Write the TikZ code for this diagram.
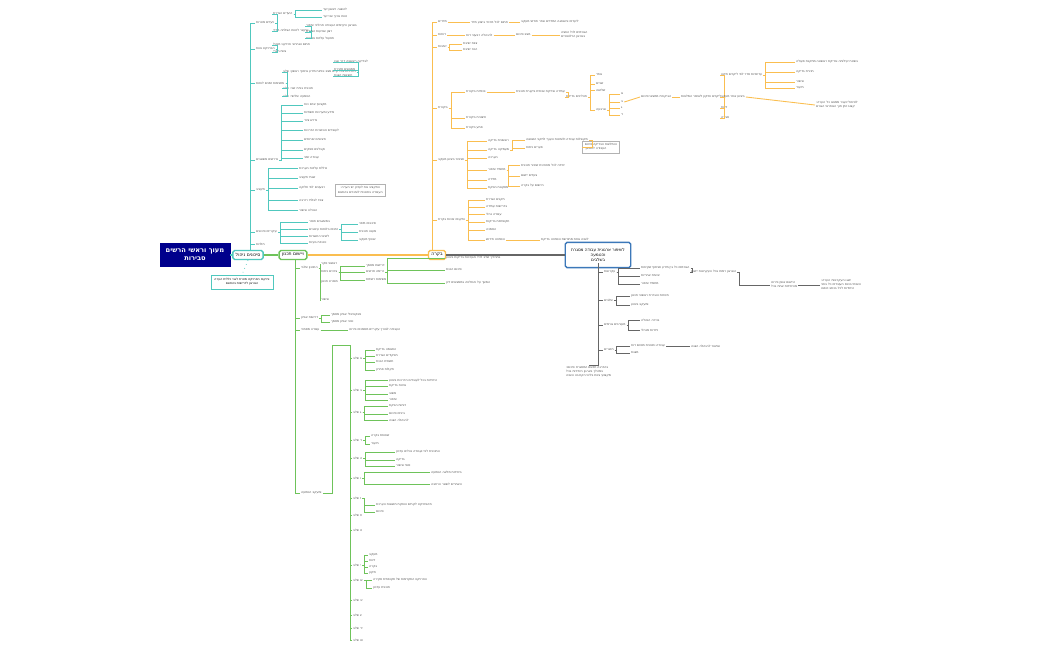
\documentclass[tikz,border=0pt]{standalone}
\usepackage{fontspec}
\setmainfont{DejaVu Sans}
\definecolor{tq}{RGB}{80,200,190}
\definecolor{gr}{RGB}{110,195,90}
\definecolor{og}{RGB}{250,190,80}
\definecolor{bl}{RGB}{60,120,185}
\tikzset{
  leaf/.style={font=\fontsize{1.8}{2.3}\selectfont, anchor=west, inner sep=0.5pt, text=black!70},
  topic/.style={draw=#1, thick, fill=white, rounded corners=1pt, font=\fontsize{2.6}{3.2}\selectfont, inner sep=1.6pt},
  tl/.style={draw=#1, line width=0.5pt},
}
\begin{document}
\begin{tikzpicture}[x=0.02cm, y=-0.02cm]
  \useasboundingbox (0,0) rectangle (1050,650);
  % main topics
  \node[draw=blue!55!black, fill=blue!55!black, text=white, font=\fontsize{3.8}{4.6}\selectfont\bfseries, minimum width=60*0.02cm, minimum height=20*0.02cm, align=center] (root) at (195,255) {הרשים וראשי מעוך\\סבירות};
  \node[topic=tq] (teal) at (248,255) {ניהול סיכונים};
  \node[topic=gr] (green) at (293,255) {תכנון ויישום};
  \node[topic=og] (orange) at (437,255) {בקרה};
  \node[draw=bl, thick, fill=white, rounded corners=1pt, font=\fontsize{2.4}{3}\selectfont, align=center, minimum width=43*0.02cm, minimum height=16*0.02cm] (blue) at (598,255) {מסגרת עבודה ארגונית לשיפור\\והטמעה\\בשלבים};
  \node[draw=tq, fill=white, font=\fontsize{1.8}{2.3}\selectfont, align=center, inner sep=2pt] (note) at (242,282) {הערה כללית לגבי מטרת הפרויקט והיקפו\\בהתאם לדרישות הארגון};
  \draw[tl=tq, thick] (root) -- (teal);
  \draw[tl=gr, thick] (teal) -- (green);
  \draw[tl=og, thick] (green) -- (orange);
  \draw[tl=black!60, thick] (orange) -- (blue);
  \draw[tq, dotted] (teal.south) -- (note.north);

  % ---------- teal branch
  \coordinate (ts) at (250,250);
  \foreach \y/\t [count=\i] in {23/מטרות ויעדים, 49/צוות הפרויקט, 83/לוחות זמנים ומשימות, 160/משאבים נדרשים, 190/תקציב, 232/סיכונים עיקריים, 244/תלויות}
  { \node[leaf] (tb\i) at (255,\y) {\t};
    \draw[tl=tq] (ts) |- (tb\i.west); }
  \foreach \y/\t [count=\i] in {14/הגדרת היעדים, 31/מדדי הצלחה לטווח הקצר}
  { \node[leaf] (ta\i) at (272,\y) {\t}; \draw[tl=tq] (tb1.east) -- ++(2,0) |- (ta\i.west); }
  \foreach \y/\t [count=\i] in {10/יעד ראשון להשגה, 17/יעד שני ארוך טווח}
  { \node[leaf] (taa\i) at (322,\y) {\t}; \draw[tl=tq] (ta1.east) -- ++(2,0) |- (taa\i.west); }
  \foreach \y/\t [count=\i] in {26/שיפור תהליכי העבודה הקיימים בארגון, 32/הגדלת שביעות רצון, 38/צמצום עלויות תפעול}
  { \node[leaf] (tab\i) at (305,\y) {\t}; \draw[tl=tq] (ta2.east) -- ++(2,0) |- (tab\i.west); }
  \foreach \y/\t [count=\i] in {45/מנהל פרויקט ואחראי תחום, 52/חברי צוות}
  { \node[leaf] (tc\i) at (272,\y) {\t}; \draw[tl=tq] (tb2.east) -- ++(2,0) |- (tc\i.west); }
  \foreach \y/\t [count=\i] in {72/שלב ראשון: איסוף מידע וניתוח מצב קיים בכל היחידות, 88/שלב שני: בניית תוכנית, 96/שלב שלישי: הטמעה}
  { \node[leaf] (td\i) at (282,\y) {\t}; \draw[tl=tq] (tb3.east) -- ++(2,0) |- (td\i.west); }
  \foreach \y/\t [count=\i] in {62/אבן דרך ראשונה לבדיקה, 70/סקירת ממצאים, 76/הצגת תוצאות}
  { \node[leaf] (tda\i) at (333,\y) {\t}; \draw[tl=tq] (td1.east) -- ++(2,0) |- (tda\i.west); }
  \foreach \y/\t [count=\i] in {105/כוח אדם מקצועי, 113/תשתיות ומערכות מידע, 121/ציוד נדרש, 130/הדרכות והכשרות לעובדים, 140/שירותים חיצוניים, 150/ספקים וקבלנים, 158/זמני עבודה}
  { \node[leaf] (te\i) at (303,\y) {\t}; \draw[tl=tq] (tb4.east) -- ++(2,0) |- (te\i.west); }
  \foreach \y/\t [count=\i] in {168/הערכת עלויות כוללת, 178/תקציב שנתי, 188/חלוקה לפי רבעונים, 200/רזרבה לבלתי צפוי, 210/אישור הנהלה}
  { \node[leaf] (tf\i) at (298,\y) {\t}; \draw[tl=tq] (tb5.east) -- ++(2,0) |- (tf\i.west); }
  \node[draw=black!30, leaf, align=center, inner sep=1.5pt] (tnote) at (335,190) {הערה: יש לעדכן את התקציב\\בהתאם לשינויים בתוכנית העבודה};
  \foreach \y/\t [count=\i] in {222/חוסר במשאבים, 229/עיכובים בלוחות זמנים, 236/התנגדות לשינוי, 243/בעיות טכניות}
  { \node[leaf] (tg\i) at (308,\y) {\t}; \draw[tl=tq] (tb6.east) -- ++(2,0) |- (tg\i.west); }
  \foreach \y/\t [count=\i] in {224/מיפוי סיכונים, 232/תוכנית מענה, 240/מעקב שוטף}
  { \node[leaf] (tga\i) at (358,\y) {\t}; \draw[tl=tq] (tg2.east) -- ++(2,0) |- (tga\i.west); }

  % ---------- green branch
  \coordinate (gs) at (295,260);
  \foreach \y/\t [count=\i] in {268/שלבי התכנון, 318/אפיון דרישות, 330/מסמכי עבודה, 493/הטמעה ומעקב}
  { \node[leaf] (gb\i) at (300,\y) {\t}; \draw[tl=gr] (gs) |- (gb\i.west); }
  \foreach \y/\t [count=\i] in {264/סקר ראשוני, 272/ניתוח צרכים, 282/תכנון מפורט, 300/אישור}
  { \node[leaf] (ga\i) at (320,\y) {\t}; \draw[tl=gr] (gb1.east) -- ++(2,0) |- (ga\i.west); }
  \foreach \y/\t [count=\i] in {266/מסמך דרישות, 272/תרשים זרימה, 280/רשימת משימות}
  { \node[leaf] (gaa\i) at (365,\y) {\t}; \draw[tl=gr] (ga2.east) -- ++(2,0) |- (gaa\i.west); }
  \foreach \y/\t [count=\i] in {258/ביצוע בדיקות והערכות לכל שלב בתהליך, 270/הכנת סיכום, 283/דיון בממצאים והחלטה על המשך}
  { \node[leaf] (gab\i) at (445,\y) {\t}; \draw[tl=gr] (gaa2.east) -- ++(2,0) |- (gab\i.west); }
  \node[leaf] (gc1) at (348,330) {פירוט מסמכים עיקריים לצורך העבודה};
  \draw[tl=gr] (gb3.east) -- (gc1.west);
  \foreach \y/\t [count=\i] in {315/מסמך אפיון פונקציונלי, 322/מסמך אפיון טכני}
  { \node[leaf] (gd\i) at (330,\y) {\t}; \draw[tl=gr] (gb2.east) -- ++(2,0) |- (gd\i.west); }
  \coordinate (gs2) at (350,345);
  \foreach \y/\t [count=\i] in {358/שלב א, 390/שלב ב, 412/שלב ג, 440/שלב ד, 458/שלב ה, 478/שלב ו, 498/שלב ז, 515/שלב ח, 530/שלב ט, 565/שלב י, 580/שלב יא, 600/שלב יב, 615/שלב יג, 628/שלב יד, 640/שלב טו}
  { \node[leaf] (gl\i) at (352,\y) {\t}; \draw[tl=gr] (gs2) |- (gl\i.west); }
  \draw[tl=gr] (gb4.east) -- ++(10,0) |- (gs2);
  \foreach \y/\t [count=\i] in {350/בדיקת התאמה, 356/הגדרת תפקידים, 362/הכנת תשתית, 370/פתרון תקלות}
  { \node[leaf] (gm\i) at (375,\y) {\t}; \draw[tl=gr] (gl1.east) -- ++(2,0) |- (gm\i.west); }
  \foreach \y/\t [count=\i] in {380/ביצוע הדרכות לעובדים בכל היחידות, 386/בדיקת איכות, 394/משוב, 400/שיפור}
  { \node[leaf] (gn\i) at (388,\y) {\t}; \draw[tl=gr] (gl2.east) -- ++(2,0) |- (gn\i.west); }
  \foreach \y/\t [count=\i] in {406/הפקת דוחות, 414/סיכום ביניים, 420/הצגה להנהלה}
  { \node[leaf] (go\i) at (388,\y) {\t}; \draw[tl=gr] (gl3.east) -- ++(2,0) |- (go\i.west); }
  \foreach \y/\t [count=\i] in {436/בקרה שוטפת, 444/תיעוד}
  { \node[leaf] (gp\i) at (370,\y) {\t}; \draw[tl=gr] (gl4.east) -- ++(2,0) |- (gp\i.west); }
  \foreach \y/\t [count=\i] in {452/עדכון נהלים ועבודה לפי התוכנית, 460/בדיקה, 466/אישור סופי}
  { \node[leaf] (gq\i) at (395,\y) {\t}; \draw[tl=gr] (gl5.east) -- ++(2,0) |- (gq\i.west); }
  \foreach \y/\t [count=\i] in {472/הטמעה מלאה ביחידות, 484/הרחבה לשאר האתרים}
  { \node[leaf] (gw\i) at (430,\y) {\t}; \draw[tl=gr] (gl6.east) -- ++(2,0) |- (gw\i.west); }
  \foreach \y/\t [count=\i] in {505/הערכת תוצאות והפקת לקחים מהפרויקט, 512/סיכום}
  { \node[leaf] (gx\i) at (375,\y) {\t}; \draw[tl=gr] (gl7.east) -- ++(2,0) |- (gx\i.west); }
  \foreach \y/\t [count=\i] in {555/מעקב, 561/דיווח, 567/בקרה, 573/תיקון}
  { \node[leaf] (gt\i) at (368,\y) {\t}; \draw[tl=gr] (gl10.east) -- ++(2,0) |- (gt\i.west); }
  \foreach \y/\t [count=\i] in {580/סקירה תקופתית של התקדמות הפרויקט, 588/עדכון תוכנית}
  { \node[leaf] (gu\i) at (372,\y) {\t}; \draw[tl=gr] (gl11.east) -- ++(2,0) |- (gu\i.west); }

  % ---------- orange branch
  \coordinate (os) at (432,250);
  \foreach \y/\t [count=\i] in {22/מדדים, 35/דוחות, 47/ישיבות, 108/ביקורת, 160/מעקב ביצוע ושיפור, 220/בקרת איכות ותקנים}
  { \node[leaf] (ob\i) at (437,\y) {\t}; \draw[tl=og] (os) |- (ob\i.west); }
  \node[leaf] (oa1) at (470,22) {מדד ביצוע מרכזי לכל תחום};
  \draw[tl=og] (ob1.east) -- (oa1.west);
  \node[leaf] (oa2) at (520,22) {מעקב חודשי אחר המדדים והשוואה ליעדים};
  \draw[tl=og] (oa1.east) -- (oa2.west);
  \node[leaf] (oa3) at (465,35) {דוח רבעוני להנהלה};
  \draw[tl=og] (ob2.east) -- (oa3.west);
  \node[leaf] (oa4) at (515,35) {סיכום מצב};
  \draw[tl=og] (oa3.east) -- (oa4.west);
  \node[leaf, align=left] (oa5) at (560,35) {הפצה לכל הגורמים\\הרלוונטיים בארגון};
  \draw[tl=og] (oa4.east) -- (oa5.west);
  \foreach \y/\t [count=\i] in {44/ישיבת צוות, 50/ישיבת היגוי}
  { \node[leaf] (oc\i) at (462,\y) {\t}; \draw[tl=og] (ob3.east) -- ++(2,0) |- (oc\i.west); }
  \foreach \y/\t [count=\i] in {92/ביקורת פנימית, 118/ביקורת חיצונית, 128/ביקורת פתע}
  { \node[leaf] (od\i) at (465,\y) {\t}; \draw[tl=og] (ob4.east) -- ++(2,0) |- (od\i.west); }
  \node[leaf] (oe1) at (515,92) {תוכנית ביקורת שנתית ובדיקת עמידה};
  \draw[tl=og] (od1.east) -- (oe1.west);
  \node[leaf] (oe2) at (565,97) {בדיקת תהליכים};
  \draw[tl=og] (oe1.east) -- ++(2,0) |- (oe2.west);
  \foreach \y/\t [count=\i] in {75/אחד, 84/שניים, 90/שלושה, 110/ארבעה}
  { \node[leaf] (of\i) at (595,\y) {\t}; \draw[tl=og] (oe2.east) -- ++(2,0) |- (of\i.west); }
  \foreach \y/\t [count=\i] in {94/א, 102/ב, 108/ג, 115/ד}
  { \node[leaf] (og\i) at (620,\y) {\t}; \draw[tl=og] (of4.east) -- ++(2,0) |- (og\i.west); }
  \node[leaf] (oh1) at (640,97) {סיכום ממצאי הביקורת};
  \draw[tl=og] (og2.east) -- (oh1.west);
  \node[leaf] (oh2) at (680,97) {המלצות לשיפור ותיקון ליקויים};
  \draw[tl=og] (oh1.east) -- (oh2.west);
  \foreach \y/\t [count=\i] in {75/תיקון ליקויים לפי סדר עדיפויות, 97/מעקב אחר ביצוע, 108/דיווח, 118/סגירה}
  { \node[leaf] (oi\i) at (720,\y) {\t}; \draw[tl=og] (oh2.east) -- ++(2,0) |- (oi\i.west); }
  \foreach \y/\t [count=\i] in {62/פעולה מתקנת ראשונה ובדיקת יעילותה בשטח, 72/בדיקה חוזרת, 82/אישור, 88/תיעוד}
  { \node[leaf] (oj\i) at (795,\y) {\t}; \draw[tl=og] (oi1.east) -- ++(2,0) |- (oj\i.west); }
  \node[leaf, align=left] (ok1) at (815,105) {הערה: כל ממצא יועבר לטיפול\\הגורם האחראי תוך זמן קצוב};
  \draw[tl=og] (oi2.east) -- (ok1.west);
  \foreach \y/\t [count=\i] in {141/בדיקה ראשונית, 150/בדיקה מעמיקה, 158/הערכה, 170/שיפור מתמיד, 180/מדידה, 188/הסקת מסקנות}
  { \node[leaf] (ol\i) at (487,\y) {\t}; \draw[tl=og] (ob5.east) -- ++(2,0) |- (ol\i.west); }
  \foreach \y/\t [count=\i] in {140/השוואה לתקני הענף ולשיטות עבודה מקובלות, 148/ניתוח פערים}
  { \node[leaf] (om\i) at (525,\y) {\t}; \draw[tl=og] (ol2.east) -- ++(2,0) |- (om\i.west); }
  \node[leaf, draw=black!30, align=left, inner sep=1.5pt] (on1) at (582,147) {סיכום הבדיקה והמלצות\\להמשך העבודה};
  \draw[tl=og] (om1.east) -- ++(3,0) |- (on1.west);
  \foreach \y/\t [count=\i] in {165/תוכנית שיפור מפורטת לכל יחידה, 176/יישום צעדים, 186/בקרה על היישום}
  { \node[leaf] (oo\i) at (520,\y) {\t}; \draw[tl=og] (ol4.east) -- ++(2,0) |- (oo\i.west); }
  \foreach \y/\t [count=\i] in {200/הגדרת תקנים, 207/עמידה בדרישות, 214/נהלי עבודה, 222/בדיקות תקופתיות, 230/הסמכה, 240/חידוש הסמכה}
  { \node[leaf] (op\i) at (485,\y) {\t}; \draw[tl=og] (ob6.east) -- ++(2,0) |- (op\i.west); }
  \node[leaf] (oq1) at (540,240) {בדיקת הסמכה מחודשת אחת לשנה};
  \draw[tl=og] (op6.east) -- (oq1.west);

  % ---------- blue branch
  \coordinate (bs) at (598,263);
  \foreach \y/\t [count=\i] in {272/עקרונות, 300/שלבים, 325/גורמים מעורבים, 350/תוצרים}
  { \node[leaf] (bb\i) at (603,\y) {\t}; \draw[tl=black!60] (bs) |- (bb\i.west); }
  \foreach \y/\t [count=\i] in {268/שקיפות ושיתוף מידע בין כל הגורמים, 276/אחריות אישית, 284/שיפור מתמיד}
  { \node[leaf] (bc\i) at (640,\y) {\t}; \draw[tl=black!60] (bb1.east) -- ++(2,0) |- (bc\i.west); }
  \node[leaf] (bd1) at (690,272) {יישום העקרונות בכל רמות הארגון};
  \draw[tl=black!60] (bc1.east) -- ++(2,0) |- (bd1.west);
  \node[leaf, align=left] (bd2) at (770,285) {פירוט אופן היישום\\בכל אחת מהיחידות};
  \draw[tl=black!60] (bd1.east) -- ++(2,0) |- (bd2.west);
  \node[leaf, align=left] (bd3) at (820,285) {הערה: העקרונות יוצגו\\בפני כל העובדים בכנס השנתי\\ויופצו בכתב לכל היחידות};
  \draw[tl=black!60] (bd2.east) -- (bd3.west);
  \foreach \y/\t [count=\i] in {296/תכנון ראשוני והגדרת מטרות, 305/ביצוע ומעקב}
  { \node[leaf] (be\i) at (630,\y) {\t}; \draw[tl=black!60] (bb2.east) -- ++(2,0) |- (be\i.west); }
  \foreach \y/\t [count=\i] in {320/הנהלה בכירה, 330/מנהלי יחידות}
  { \node[leaf] (bf\i) at (640,\y) {\t}; \draw[tl=black!60] (bb3.east) -- ++(2,0) |- (bf\i.west); }
  \foreach \y/\t [count=\i] in {346/דוח מסכם ותוכנית עבודה, 353/מצגת}
  { \node[leaf] (bg\i) at (630,\y) {\t}; \draw[tl=black!60] (bb4.east) -- ++(2,0) |- (bg\i.west); }
  \node[leaf] (bh1) at (690,346) {הצגה להנהלה ואישור};
  \draw[tl=black!60] (bg1.east) -- (bh1.west);
  \node[leaf, align=left] (bh2) at (565,372) {סיכום: המסגרת תיושם בהדרגה\\בכל היחידות בארגון במהלך\\השנה הקרובה בליווי צוות מקצועי};
  \draw[tl=black!60] (bs) |- (bh2.north);
\end{tikzpicture}
\end{document}
